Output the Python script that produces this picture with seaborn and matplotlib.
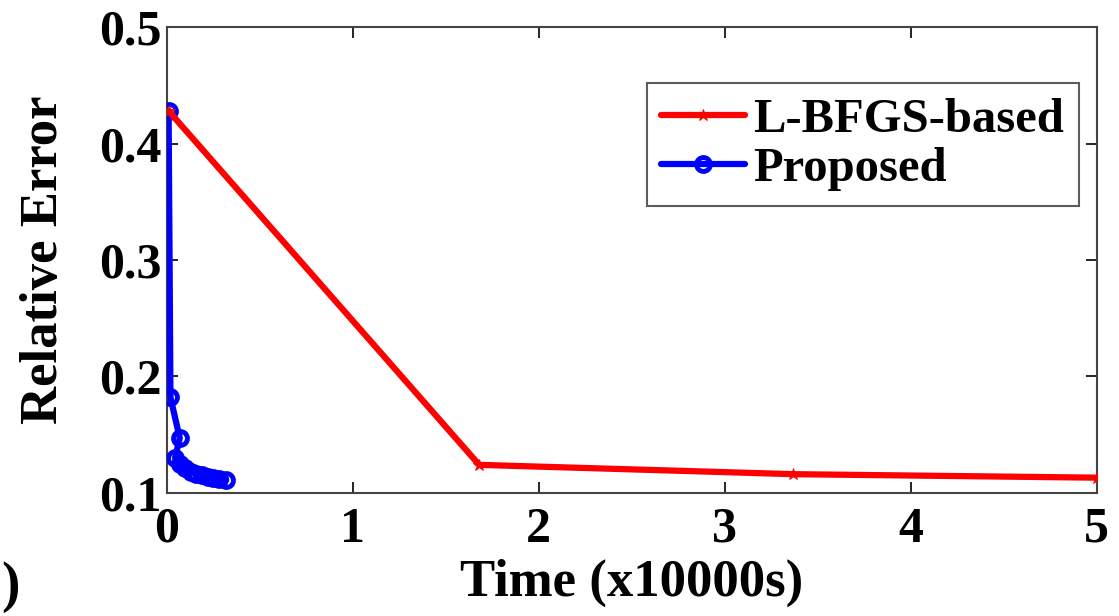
import numpy as np
import pandas as pd
import matplotlib
matplotlib.use('Agg')
import matplotlib.pyplot as plt
import seaborn as sns

# data (time in units of 10000 s)
lbfgs_time = [0.01, 1.68, 3.37, 5.0]
lbfgs_err = [0.428, 0.124, 0.116, 0.113]

prop_time = [0.01, 0.02, 0.07, 0.045, 0.07, 0.10, 0.13, 0.16, 0.19, 0.22, 0.25, 0.28, 0.32]
prop_err = [0.428, 0.182, 0.147, 0.130, 0.125, 0.121, 0.118, 0.116, 0.115, 0.114, 0.113, 0.112, 0.111]

x_ticks = [0, 1, 2, 3, 4, 5]
y_ticks = [0.1, 0.2, 0.3, 0.4, 0.5]

sns.set_style('white')
plt.rcParams['font.family'] = ['Liberation Serif', 'DejaVu Serif']
plt.rcParams['font.weight'] = 'bold'
plt.rcParams['text.color'] = 'black'
plt.rcParams['axes.labelcolor'] = 'black'
plt.rcParams['xtick.color'] = 'black'
plt.rcParams['ytick.color'] = 'black'

fig, ax = plt.subplots(figsize=(11.19, 6.16), dpi=100)
fig.subplots_adjust(left=0.149, right=0.980, top=0.956, bottom=0.200)

sns.lineplot(x=lbfgs_time, y=lbfgs_err, ax=ax, color='#ff0000', lw=4.5,
             marker='*', markersize=9, markeredgecolor='#ff0000',
             label='L-BFGS-based', sort=False, estimator=None, zorder=4)
sns.lineplot(x=prop_time, y=prop_err, ax=ax, color='#0000ff', lw=4.5,
             marker='o', markersize=10, markerfacecolor='none', markeredgewidth=3.5,
             markeredgecolor='#0000ff', label='Proposed', sort=False, estimator=None, zorder=3)

ax.set_xlim(0, 5)
ax.set_ylim(0.1, 0.5)
ax.set_xticks(x_ticks)
ax.set_xticklabels([str(t) for t in x_ticks])
ax.set_yticks(y_ticks)
ax.set_yticklabels([f'{t:.1f}' for t in y_ticks])
ax.tick_params(axis='both', which='both', direction='in', length=8, width=1.2,
               labelsize=36, top=True, right=True, bottom=True, left=True, pad=4)
ax.tick_params(axis='x', pad=10)
for lbl in ax.get_xticklabels() + ax.get_yticklabels():
    lbl.set_fontweight('bold')
for sp in ax.spines.values():
    sp.set_color('#444444')
    sp.set_linewidth(1.5)

ax.set_xlabel('Time (x10000s)', fontsize=38, fontweight='bold', labelpad=4)
ax.set_ylabel('Relative Error', fontsize=38, fontweight='bold', labelpad=22)

leg = ax.legend(loc='upper right', fontsize=35, frameon=True, fancybox=False,
                edgecolor='#333333', handlelength=1.73, handletextpad=0.16,
                borderpad=0.3, labelspacing=0.12, borderaxespad=0.0,
                bbox_to_anchor=(0.9806, 0.88))
leg.get_frame().set_linewidth(1.5)
for t in leg.get_texts():
    t.set_fontweight('bold')

fig.text(0.001, 0.005, ')', fontsize=40, fontweight='bold', ha='left', va='bottom')

fig.savefig('out.png', dpi=100, facecolor='white')
